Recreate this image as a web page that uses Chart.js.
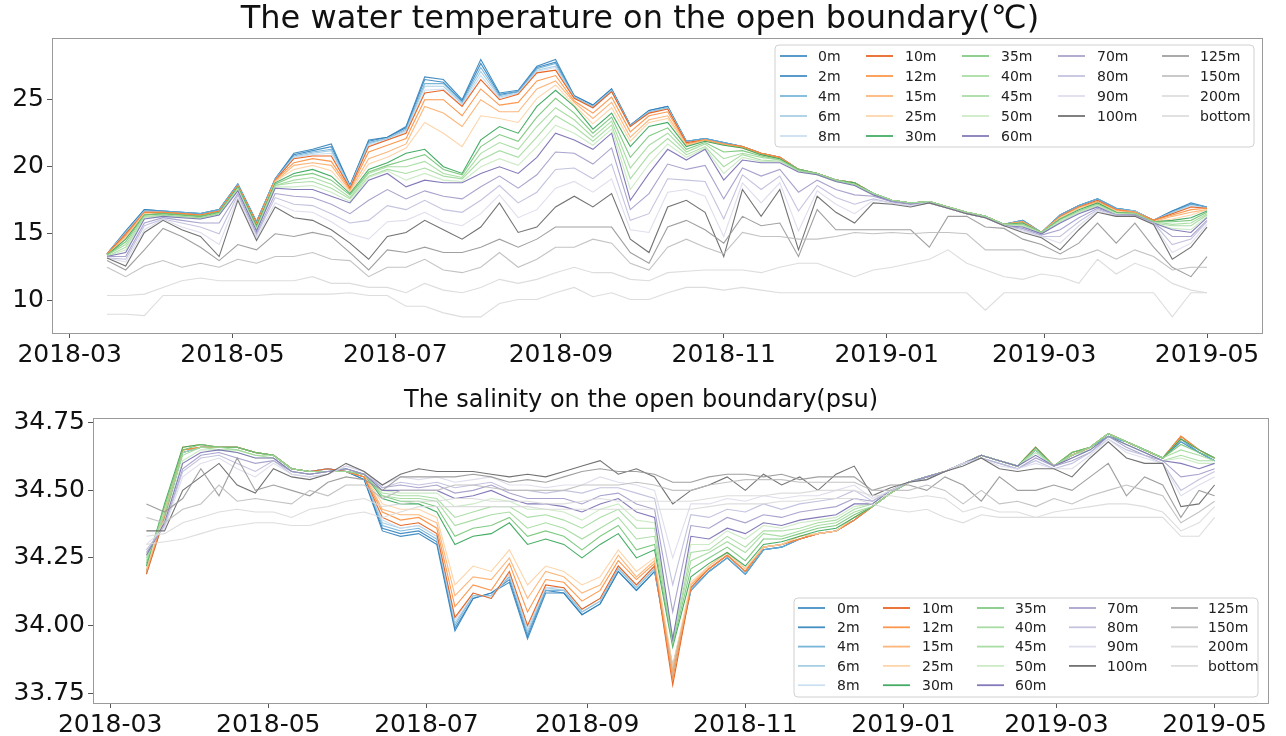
<!DOCTYPE html>
<html><head><meta charset="utf-8">
<script src="https://cdn.jsdelivr.net/npm/chart.js@4.4.1/dist/chart.umd.min.js"></script>
<style>
html,body{margin:0;padding:0;background:#fff;overflow:hidden}
#wrap{position:relative;width:1286px;height:736px;background:#fff}
.box{position:absolute;left:0;width:1286px;height:368px}
</style></head><body>
<div id="wrap">
<div class="box" style="top:0"><canvas id="c1" width="1286" height="368"></canvas></div>
<div class="box" style="top:368px"><canvas id="c2" width="1286" height="368"></canvas></div>
</div>
<script>
// ---------- data ----------
// day offsets from 2018-03-01
const days = [14,21,28,35,42,49,56,63,70,77,84,91,98,105,112,119,126,133,140,147,154,161,168,175,182,189,196,203,210,217,224,231,238,245,252,259,266,273,280,287,294,301,308,315,322,329,336,343,350,357,364,371,378,385,392,399,406,413,420,426];
const depths = ['0m','2m','4m','6m','8m','10m','12m','15m','25m','30m','35m','40m','45m','50m','60m','70m','80m','90m','100m','125m','150m','200m','bottom'];
const tickDays = [0,61,122,184,245,306,365,426];
const tickLabels = ['2018-03','2018-05','2018-07','2018-09','2018-11','2019-01','2019-03','2019-05'];
const tempTicks = [10,15,20,25];
const salTicks = [33.75,34.00,34.25,34.50,34.75];

// water temperature (°C)
const temp0m = [13.5,15.2,16.8,16.7,16.6,16.5,16.8,18.7,15.9,19.1,21.0,21.3,21.7,18.6,22.0,22.2,23.0,26.7,26.5,25.0,28.0,25.5,25.7,27.5,28.0,25.3,24.6,25.8,23.1,24.2,24.5,21.9,22.1,21.8,21.5,21.0,20.7,19.8,19.5,19.0,18.8,18.0,17.5,17.3,17.4,17.0,16.6,16.3,15.7,16.0,15.1,16.4,17.1,17.6,16.9,16.7,16.0,16.7,17.3,17.0];
const temp2m = [13.5,15.2,16.8,16.7,16.6,16.5,16.8,18.7,15.9,19.1,20.9,21.2,21.5,18.6,21.9,22.2,22.9,26.5,26.3,24.9,27.7,25.4,25.6,27.4,27.8,25.3,24.6,25.8,23.1,24.2,24.5,21.9,22.1,21.8,21.5,21.0,20.7,19.8,19.5,19.0,18.8,18.0,17.5,17.3,17.4,17.0,16.6,16.3,15.7,16.0,15.1,16.4,17.1,17.6,16.9,16.7,16.0,16.7,17.2,17.0];
const temp4m = [13.5,15.1,16.7,16.7,16.6,16.5,16.8,18.7,15.9,19.1,20.8,21.1,21.3,18.5,21.8,22.1,22.8,26.2,26.2,24.8,27.4,25.3,25.6,27.3,27.7,25.2,24.5,25.7,23.1,24.1,24.4,21.9,22.1,21.8,21.5,21.0,20.7,19.8,19.5,19.0,18.8,18.0,17.5,17.3,17.4,17.0,16.6,16.3,15.7,16.0,15.1,16.4,17.1,17.6,16.9,16.7,16.0,16.6,17.2,17.0];
const temp6m = [13.5,15.1,16.7,16.6,16.5,16.4,16.7,18.6,15.8,19.0,20.7,21.0,21.2,18.5,21.7,22.1,22.7,26.0,26.0,24.7,27.1,25.2,25.5,27.2,27.5,25.2,24.5,25.7,23.0,24.1,24.4,21.8,22.0,21.7,21.5,21.0,20.7,19.8,19.5,19.0,18.8,18.0,17.5,17.3,17.4,17.0,16.6,16.3,15.7,15.9,15.1,16.3,17.0,17.5,16.8,16.7,16.0,16.6,17.1,16.9];
const temp8m = [13.5,15.0,16.6,16.6,16.5,16.4,16.7,18.6,15.8,19.0,20.7,20.9,21.0,18.4,21.6,22.0,22.6,25.7,25.8,24.6,26.8,25.1,25.5,27.1,27.4,25.1,24.4,25.6,23.0,24.0,24.3,21.8,22.0,21.7,21.5,21.0,20.7,19.8,19.5,19.0,18.8,18.0,17.5,17.3,17.4,17.0,16.6,16.3,15.7,15.9,15.1,16.3,17.0,17.5,16.8,16.6,16.0,16.5,17.1,16.9];
const temp10m = [13.5,15.0,16.6,16.6,16.5,16.4,16.7,18.6,15.8,19.0,20.6,20.8,20.8,18.4,21.5,22.0,22.5,25.5,25.7,24.5,26.5,25.0,25.4,27.0,27.2,25.1,24.4,25.6,23.0,24.0,24.3,21.8,22.0,21.7,21.5,21.0,20.7,19.8,19.5,19.0,18.8,18.0,17.5,17.3,17.4,17.0,16.6,16.3,15.7,15.9,15.1,16.3,17.0,17.5,16.8,16.6,16.0,16.5,17.0,16.9];
const temp12m = [13.5,14.9,16.6,16.6,16.5,16.4,16.7,18.6,15.7,19.0,20.3,20.6,20.4,18.3,21.1,21.6,22.1,25.0,25.0,23.8,25.8,24.6,24.8,26.4,26.8,24.9,24.0,25.2,22.6,23.8,24.1,21.7,22.0,21.7,21.5,21.0,20.7,19.8,19.5,19.0,18.8,18.0,17.5,17.3,17.4,17.0,16.6,16.3,15.7,15.9,15.1,16.3,17.0,17.4,16.8,16.6,16.0,16.4,16.8,16.9];
const temp15m = [13.4,14.8,16.5,16.5,16.4,16.3,16.6,18.5,15.7,18.9,20.1,20.3,20.1,18.2,20.6,21.1,21.7,24.5,24.0,23.0,25.0,24.1,24.1,25.8,26.4,24.8,23.6,24.8,22.2,23.5,23.8,21.6,22.0,21.7,21.4,20.9,20.6,19.8,19.5,19.0,18.8,18.0,17.5,17.3,17.4,17.0,16.6,16.3,15.7,15.9,15.1,16.2,16.9,17.4,16.7,16.6,15.9,16.3,16.6,16.8];
const temp25m = [13.4,14.7,16.5,16.5,16.4,16.3,16.6,18.5,15.6,18.9,19.8,20.1,19.7,18.1,20.2,20.7,21.4,23.3,22.5,21.5,23.8,23.6,23.3,25.1,26.1,24.6,23.2,24.4,21.9,23.3,23.6,21.6,21.9,21.6,21.4,20.9,20.6,19.8,19.5,19.0,18.8,18.0,17.5,17.3,17.4,17.0,16.6,16.3,15.7,15.8,15.1,16.2,16.9,17.3,16.7,16.5,15.9,16.1,16.4,16.8];
const temp30m = [13.4,14.6,16.4,16.5,16.4,16.3,16.6,18.5,15.6,18.8,19.5,19.8,19.3,18.0,19.8,20.3,21.0,21.3,20.0,19.5,22.0,23.0,22.5,24.5,25.7,24.5,22.8,24.0,21.5,23.0,23.3,21.5,21.9,21.6,21.4,20.9,20.6,19.8,19.5,19.0,18.8,18.0,17.5,17.3,17.4,17.0,16.6,16.3,15.7,15.8,15.1,16.1,16.8,17.3,16.6,16.5,15.9,16.0,16.2,16.7];
const temp35m = [13.4,14.4,16.4,16.5,16.4,16.3,16.6,18.4,15.5,18.7,19.3,19.5,19.0,17.9,19.6,20.1,20.5,20.9,19.8,19.4,21.5,22.4,21.9,23.7,25.1,24.0,22.5,23.7,20.7,22.3,22.9,21.3,21.8,21.1,21.2,20.8,20.5,19.8,19.5,19.0,18.7,18.0,17.5,17.3,17.4,17.0,16.6,16.3,15.7,15.7,15.1,16.1,16.7,17.2,16.6,16.5,15.9,15.9,16.0,16.6];
const temp40m = [13.4,14.2,16.3,16.4,16.3,16.2,16.5,18.4,15.4,18.6,19.0,19.2,18.7,17.7,19.5,20.0,20.0,20.4,19.5,19.2,21.0,21.8,21.3,23.0,24.4,23.5,22.2,23.4,19.9,21.6,22.5,21.1,21.7,20.6,21.0,20.7,20.5,19.7,19.5,19.0,18.7,18.0,17.5,17.3,17.4,17.0,16.6,16.3,15.7,15.7,15.1,16.0,16.7,17.2,16.5,16.5,15.9,15.7,15.8,16.5];
const temp45m = [13.3,14.0,16.2,16.4,16.3,16.2,16.5,18.3,15.3,18.6,18.8,18.9,18.4,17.6,19.3,19.8,19.5,19.9,19.3,19.1,20.5,21.2,20.7,22.2,23.8,23.0,21.9,23.1,19.1,20.9,22.1,20.9,21.5,20.0,20.9,20.5,20.4,19.7,19.4,18.9,18.7,18.0,17.5,17.3,17.4,17.0,16.6,16.3,15.7,15.6,15.0,15.9,16.6,17.1,16.5,16.4,15.8,15.6,15.6,16.4];
const temp50m = [13.3,13.8,16.2,16.3,16.2,16.1,16.4,18.3,15.3,18.5,18.5,18.6,18.1,17.4,19.2,19.7,19.0,19.5,19.0,18.9,20.0,20.6,20.1,21.5,23.1,22.5,21.6,22.8,18.3,20.2,21.7,20.7,21.4,19.5,20.7,20.4,20.4,19.6,19.4,18.9,18.6,17.9,17.4,17.2,17.3,16.9,16.5,16.2,15.6,15.6,15.0,15.9,16.6,17.1,16.5,16.4,15.8,15.4,15.3,16.3];
const temp60m = [13.3,13.6,16.1,16.3,16.2,16.1,16.4,18.2,15.2,18.4,18.3,18.3,17.8,17.3,19.0,19.5,18.5,19.0,18.8,18.8,19.5,20.0,19.5,20.7,22.5,22.0,21.3,22.5,17.5,19.5,21.3,20.5,21.3,19.0,20.5,20.3,20.3,19.6,19.4,18.9,18.6,17.9,17.4,17.2,17.3,16.9,16.5,16.2,15.6,15.5,15.0,15.8,16.5,17.0,16.4,16.4,15.8,15.3,15.1,16.2];
const temp70m = [13.3,13.3,15.8,16.2,16.0,15.8,15.8,18.0,15.0,18.0,17.8,17.7,17.2,16.5,17.5,18.3,17.6,18.2,17.8,17.6,18.5,19.3,18.4,19.4,21.1,21.0,20.2,21.4,16.8,18.0,20.2,19.8,20.1,17.6,19.9,19.3,19.8,18.1,19.0,18.3,17.9,17.8,17.4,17.2,17.3,16.9,16.5,16.2,15.6,15.4,14.9,15.3,16.2,16.9,16.4,16.4,15.8,14.8,14.8,16.0];
const temp80m = [13.2,13.1,15.6,16.1,15.8,15.5,15.0,17.9,14.9,17.7,17.2,17.1,16.5,15.8,16.0,17.1,16.8,17.5,16.8,16.6,17.5,18.6,17.3,18.1,19.8,19.9,19.1,20.2,16.0,16.5,19.1,19.0,18.9,16.1,19.4,18.3,19.3,16.7,18.6,17.7,17.2,17.6,17.3,17.1,17.3,16.9,16.5,16.2,15.6,15.3,14.8,14.8,15.9,16.8,16.4,16.3,15.8,14.2,14.6,15.9];
const temp90m = [13.2,12.9,15.3,16.1,15.5,15.1,14.2,17.7,14.7,17.3,16.7,16.6,15.9,15.0,14.6,15.9,16.0,16.6,15.9,15.6,16.5,17.9,16.2,16.8,18.4,18.9,18.1,19.1,15.3,15.1,18.1,18.3,17.8,14.8,18.8,17.3,18.8,15.2,18.2,17.2,16.5,17.5,17.3,17.1,17.3,16.9,16.5,16.2,15.6,15.2,14.8,14.3,15.6,16.7,16.3,16.3,15.7,13.6,14.3,15.7];
const temp100m = [13.2,12.6,15.1,16.0,15.3,14.8,13.3,17.5,14.5,17.0,16.2,16.0,15.3,14.3,13.1,14.8,15.1,16.0,15.3,14.6,15.5,17.3,15.1,15.5,17.0,17.8,17.0,18.0,14.6,13.6,17.0,17.5,16.6,13.3,18.3,16.3,18.3,13.8,17.8,16.6,15.8,17.3,17.2,17.0,17.3,16.9,16.5,16.2,15.6,15.1,14.7,13.8,15.3,16.6,16.3,16.3,15.7,13.1,14.0,15.5];
const temp125m = [13.0,12.3,13.8,15.4,14.8,14.0,13.0,14.2,13.8,15.0,14.8,15.1,14.8,13.6,12.3,13.8,13.6,14.0,13.6,13.6,14.0,14.6,14.0,14.6,15.5,15.5,15.5,15.5,13.6,12.8,15.5,16.0,15.3,14.3,16.3,15.6,15.8,13.3,16.8,15.3,15.3,15.3,15.3,15.3,14.0,16.3,16.3,15.5,15.4,14.6,14.2,13.5,14.3,15.8,14.3,15.8,14.0,12.5,11.8,13.3];
const temp150m = [12.5,11.8,12.6,13.0,12.5,12.8,12.5,13.1,12.8,13.3,13.3,13.6,13.1,13.0,11.8,12.5,12.5,13.1,12.3,12.1,12.5,13.6,12.5,13.1,14.0,14.0,14.6,14.3,12.8,12.3,14.0,14.6,14.0,13.5,15.1,14.8,14.8,14.6,14.6,14.8,15.1,15.0,15.1,15.0,15.1,15.1,15.0,13.8,13.8,13.8,13.3,13.1,13.3,13.8,13.1,13.8,13.3,12.3,12.5,12.5];
const temp200m = [10.4,10.4,10.5,11.0,11.5,11.7,11.5,11.5,11.5,11.5,11.5,11.8,11.3,11.3,11.0,11.0,10.6,11.3,10.8,10.6,11.0,11.6,11.3,11.6,12.1,12.5,12.1,12.1,11.6,11.5,12.1,12.2,12.3,12.3,12.3,12.1,12.5,12.8,12.8,12.3,11.8,12.3,12.5,12.8,13.1,13.8,12.8,12.3,11.8,11.6,12.0,11.8,11.3,13.1,12.0,12.8,12.3,11.3,10.8,10.6];
const tempBottom = [9.0,9.0,8.9,10.4,10.4,10.4,10.4,10.4,10.4,10.5,10.5,10.5,10.5,10.6,10.4,10.4,9.6,9.6,9.1,8.8,8.8,9.8,10.1,10.1,10.6,11.0,10.3,10.6,10.1,10.1,10.6,11.0,11.0,10.8,11.0,10.8,10.6,10.6,10.6,10.6,10.6,10.6,10.6,10.6,10.6,10.6,10.6,9.3,10.6,10.6,10.6,10.6,10.6,10.6,10.6,10.6,10.6,8.8,10.6,10.6];

// salinity (psu)
const sal0m = [34.20,34.40,34.64,34.66,34.66,34.66,34.64,34.63,34.58,34.57,34.58,34.57,34.54,34.35,34.33,34.34,34.30,33.98,34.10,34.12,34.16,33.95,34.12,34.12,34.04,34.08,34.20,34.13,34.20,33.85,34.13,34.20,34.25,34.19,34.28,34.29,34.32,34.34,34.35,34.39,34.44,34.49,34.53,34.55,34.57,34.60,34.63,34.61,34.59,34.65,34.59,34.63,34.66,34.70,34.68,34.65,34.62,34.68,34.64,34.61];
const sal2m = [34.20,34.40,34.64,34.66,34.66,34.66,34.64,34.63,34.58,34.57,34.58,34.57,34.54,34.36,34.34,34.35,34.31,33.99,34.10,34.12,34.17,33.96,34.13,34.12,34.04,34.08,34.20,34.13,34.20,33.83,34.13,34.20,34.25,34.19,34.28,34.29,34.32,34.34,34.35,34.39,34.44,34.49,34.53,34.55,34.57,34.60,34.63,34.61,34.59,34.65,34.59,34.63,34.66,34.70,34.68,34.65,34.62,34.69,34.64,34.61];
const sal4m = [34.20,34.40,34.64,34.66,34.66,34.66,34.64,34.63,34.58,34.57,34.58,34.57,34.55,34.37,34.35,34.36,34.32,34.00,34.11,34.11,34.18,33.97,34.13,34.13,34.05,34.09,34.21,34.14,34.21,33.82,34.13,34.20,34.25,34.19,34.28,34.29,34.32,34.34,34.35,34.39,34.44,34.49,34.53,34.55,34.57,34.60,34.63,34.61,34.59,34.65,34.59,34.63,34.66,34.70,34.68,34.65,34.62,34.69,34.64,34.61];
const sal6m = [34.19,34.40,34.64,34.66,34.66,34.66,34.64,34.63,34.58,34.57,34.58,34.57,34.55,34.38,34.36,34.37,34.33,34.01,34.11,34.11,34.19,33.98,34.14,34.13,34.05,34.09,34.21,34.14,34.21,33.81,34.14,34.21,34.26,34.20,34.29,34.30,34.32,34.34,34.35,34.39,34.44,34.49,34.53,34.55,34.57,34.60,34.63,34.61,34.59,34.66,34.59,34.63,34.66,34.71,34.68,34.65,34.62,34.70,34.65,34.62];
const sal8m = [34.19,34.40,34.65,34.66,34.66,34.66,34.64,34.63,34.58,34.57,34.58,34.57,34.55,34.39,34.36,34.37,34.33,34.02,34.12,34.10,34.19,33.99,34.14,34.14,34.06,34.10,34.22,34.15,34.22,33.80,34.14,34.21,34.26,34.20,34.29,34.30,34.32,34.34,34.35,34.39,34.44,34.49,34.53,34.55,34.57,34.60,34.63,34.61,34.59,34.66,34.59,34.63,34.66,34.71,34.68,34.65,34.62,34.70,34.65,34.62];
const sal10m = [34.19,34.40,34.65,34.66,34.66,34.66,34.64,34.63,34.58,34.57,34.58,34.57,34.55,34.40,34.37,34.38,34.34,34.03,34.12,34.10,34.20,34.00,34.15,34.14,34.06,34.10,34.22,34.15,34.22,33.78,34.14,34.21,34.26,34.20,34.29,34.30,34.32,34.34,34.35,34.39,34.44,34.49,34.53,34.55,34.57,34.60,34.63,34.61,34.59,34.66,34.59,34.63,34.66,34.71,34.68,34.65,34.62,34.70,34.65,34.62];
const sal12m = [34.20,34.41,34.65,34.66,34.66,34.66,34.64,34.63,34.58,34.57,34.57,34.57,34.55,34.42,34.39,34.40,34.36,34.07,34.15,34.13,34.23,34.05,34.17,34.16,34.09,34.13,34.24,34.17,34.23,33.80,34.15,34.21,34.26,34.20,34.29,34.30,34.32,34.34,34.35,34.39,34.44,34.49,34.53,34.55,34.57,34.60,34.63,34.61,34.59,34.66,34.59,34.63,34.66,34.71,34.68,34.65,34.62,34.70,34.65,34.62];
const sal15m = [34.20,34.42,34.66,34.67,34.66,34.66,34.64,34.63,34.58,34.57,34.57,34.57,34.56,34.43,34.41,34.41,34.38,34.11,34.18,34.17,34.25,34.10,34.20,34.18,34.12,34.15,34.26,34.18,34.24,33.83,34.15,34.22,34.27,34.21,34.29,34.30,34.33,34.34,34.35,34.40,34.44,34.49,34.53,34.55,34.57,34.60,34.63,34.61,34.59,34.66,34.59,34.64,34.66,34.71,34.68,34.65,34.62,34.69,34.65,34.62];
const sal25m = [34.21,34.43,34.66,34.67,34.66,34.66,34.64,34.63,34.58,34.57,34.57,34.57,34.56,34.45,34.43,34.43,34.40,34.15,34.22,34.20,34.28,34.15,34.22,34.20,34.15,34.18,34.28,34.20,34.25,33.85,34.16,34.22,34.27,34.21,34.29,34.30,34.33,34.34,34.35,34.40,34.44,34.49,34.53,34.55,34.57,34.60,34.63,34.61,34.59,34.66,34.59,34.64,34.66,34.71,34.68,34.65,34.62,34.69,34.65,34.62];
const sal30m = [34.22,34.45,34.66,34.67,34.66,34.66,34.64,34.63,34.58,34.57,34.57,34.57,34.56,34.47,34.45,34.45,34.42,34.30,34.33,34.34,34.38,34.30,34.32,34.30,34.25,34.30,34.34,34.25,34.28,33.92,34.18,34.23,34.27,34.22,34.30,34.31,34.33,34.35,34.36,34.40,34.44,34.49,34.53,34.55,34.57,34.60,34.63,34.61,34.59,34.66,34.59,34.64,34.66,34.71,34.68,34.65,34.62,34.69,34.65,34.62];
const sal35m = [34.23,34.44,34.65,34.67,34.66,34.66,34.64,34.63,34.58,34.57,34.57,34.57,34.56,34.48,34.46,34.46,34.44,34.33,34.36,34.37,34.40,34.33,34.35,34.33,34.28,34.33,34.37,34.28,34.30,33.93,34.21,34.25,34.29,34.24,34.32,34.32,34.34,34.36,34.37,34.41,34.44,34.49,34.53,34.55,34.57,34.60,34.63,34.61,34.59,34.65,34.59,34.64,34.66,34.71,34.68,34.65,34.62,34.67,34.64,34.62];
const sal40m = [34.24,34.42,34.64,34.66,34.66,34.65,34.63,34.63,34.58,34.57,34.57,34.57,34.56,34.48,34.47,34.47,34.46,34.37,34.39,34.41,34.42,34.36,34.38,34.36,34.32,34.36,34.40,34.32,34.33,33.94,34.24,34.27,34.31,34.27,34.34,34.33,34.35,34.37,34.38,34.42,34.44,34.49,34.53,34.55,34.57,34.60,34.63,34.61,34.59,34.65,34.59,34.63,34.66,34.71,34.68,34.65,34.62,34.65,34.63,34.61];
const sal45m = [34.25,34.41,34.63,34.66,34.65,34.65,34.63,34.62,34.57,34.56,34.57,34.58,34.56,34.49,34.48,34.48,34.47,34.40,34.42,34.44,34.44,34.40,34.41,34.39,34.36,34.40,34.43,34.36,34.36,33.94,34.27,34.28,34.33,34.29,34.35,34.35,34.36,34.38,34.39,34.43,34.45,34.50,34.53,34.55,34.57,34.60,34.63,34.61,34.59,34.64,34.59,34.63,34.65,34.70,34.67,34.64,34.61,34.63,34.61,34.61];
const sal50m = [34.26,34.39,34.61,34.65,34.65,34.64,34.62,34.62,34.57,34.56,34.57,34.58,34.56,34.50,34.49,34.49,34.49,34.44,34.45,34.47,34.46,34.43,34.43,34.42,34.39,34.43,34.45,34.39,34.38,33.95,34.30,34.30,34.35,34.32,34.37,34.36,34.38,34.39,34.40,34.44,34.45,34.50,34.53,34.55,34.57,34.60,34.63,34.61,34.59,34.64,34.59,34.62,34.65,34.70,34.67,34.64,34.61,34.62,34.60,34.60];
const sal60m = [34.26,34.38,34.60,34.64,34.65,34.64,34.62,34.62,34.57,34.56,34.57,34.58,34.56,34.50,34.50,34.50,34.50,34.47,34.48,34.50,34.47,34.45,34.45,34.44,34.42,34.45,34.47,34.42,34.40,33.95,34.33,34.32,34.36,34.34,34.38,34.37,34.39,34.40,34.41,34.45,34.45,34.50,34.53,34.55,34.57,34.60,34.63,34.61,34.59,34.63,34.59,34.62,34.65,34.70,34.67,34.64,34.61,34.60,34.58,34.60];
const sal70m = [34.27,34.37,34.58,34.63,34.64,34.62,34.60,34.61,34.57,34.56,34.57,34.58,34.56,34.51,34.52,34.51,34.52,34.49,34.50,34.52,34.49,34.47,34.47,34.47,34.45,34.48,34.49,34.45,34.43,34.05,34.37,34.36,34.40,34.38,34.41,34.40,34.42,34.43,34.44,34.47,34.46,34.50,34.53,34.55,34.57,34.60,34.62,34.60,34.58,34.62,34.59,34.61,34.64,34.70,34.66,34.63,34.61,34.55,34.56,34.58];
const sal80m = [34.28,34.37,34.57,34.62,34.63,34.60,34.57,34.61,34.56,34.55,34.56,34.59,34.57,34.51,34.53,34.52,34.53,34.51,34.52,34.53,34.50,34.50,34.49,34.50,34.49,34.51,34.51,34.49,34.47,34.15,34.41,34.40,34.43,34.42,34.45,34.43,34.45,34.46,34.47,34.50,34.46,34.50,34.53,34.54,34.57,34.60,34.62,34.60,34.58,34.61,34.58,34.60,34.64,34.69,34.65,34.63,34.60,34.50,34.54,34.57];
const sal90m = [34.30,34.36,34.55,34.60,34.62,34.58,34.55,34.60,34.56,34.55,34.56,34.59,34.57,34.52,34.55,34.54,34.55,34.53,34.54,34.55,34.52,34.52,34.51,34.52,34.52,34.55,34.53,34.52,34.50,34.25,34.45,34.45,34.47,34.46,34.48,34.47,34.48,34.48,34.50,34.52,34.47,34.50,34.53,34.54,34.57,34.60,34.62,34.59,34.58,34.60,34.58,34.58,34.63,34.69,34.64,34.62,34.60,34.48,34.52,34.55];
const sal100m = [34.35,34.35,34.50,34.55,34.60,34.52,34.49,34.58,34.55,34.54,34.56,34.60,34.57,34.52,34.56,34.58,34.57,34.57,34.57,34.56,34.55,34.56,34.55,34.57,34.59,34.61,34.56,34.58,34.55,34.45,34.50,34.52,34.55,34.50,34.56,34.52,34.55,34.50,34.56,34.59,34.48,34.51,34.53,34.54,34.57,34.59,34.62,34.58,34.57,34.58,34.58,34.55,34.62,34.68,34.62,34.60,34.60,34.44,34.45,34.52];
const sal125m = [34.45,34.42,34.47,34.58,34.48,34.62,34.50,34.52,34.50,34.48,34.53,34.55,34.54,34.50,34.55,34.55,34.55,34.55,34.56,34.55,34.53,34.54,34.53,34.55,34.57,34.58,34.57,34.57,34.56,34.53,34.53,34.55,34.56,34.56,34.55,34.56,34.54,34.55,34.55,34.55,34.50,34.52,34.52,34.50,34.55,34.52,34.46,34.55,34.50,34.50,34.52,34.50,34.55,34.60,34.48,34.55,34.52,34.40,34.50,34.48];
const sal150m = [34.40,34.38,34.43,34.45,34.52,34.46,34.47,34.46,34.45,34.50,34.48,34.52,34.52,34.47,34.50,34.50,34.50,34.52,34.52,34.51,34.50,34.50,34.50,34.50,34.52,34.52,34.52,34.53,34.52,34.50,34.50,34.52,34.53,34.54,34.54,34.54,34.53,34.53,34.53,34.53,34.50,34.50,34.50,34.52,34.50,34.45,34.50,34.45,34.46,34.44,34.47,34.45,34.48,34.50,34.52,34.50,34.48,34.38,34.42,34.46];
const sal200m = [34.33,34.34,34.38,34.40,34.42,34.43,34.42,34.42,34.40,34.43,34.44,34.46,34.47,34.44,34.45,34.46,34.46,34.47,34.47,34.46,34.46,34.46,34.45,34.45,34.46,34.47,34.46,34.46,34.46,34.46,34.46,34.47,34.48,34.48,34.48,34.49,34.49,34.50,34.50,34.50,34.48,34.48,34.47,34.48,34.47,34.42,34.44,34.42,34.42,34.40,34.42,34.43,34.44,34.45,34.45,34.44,34.42,34.35,34.38,34.44];
const salBottom = [34.30,34.31,34.32,34.34,34.36,34.37,34.38,34.38,34.37,34.37,34.39,34.41,34.42,34.40,34.42,34.44,34.44,34.44,34.44,34.44,34.44,34.44,34.43,34.43,34.43,34.43,34.43,34.43,34.43,34.43,34.43,34.44,34.45,34.45,34.45,34.46,34.46,34.47,34.47,34.47,34.45,34.43,34.42,34.43,34.40,34.38,34.41,34.40,34.40,34.40,34.40,34.40,34.40,34.40,34.40,34.40,34.40,34.33,34.33,34.40];

const tempSeries = [temp0m,temp2m,temp4m,temp6m,temp8m,temp10m,temp12m,temp15m,temp25m,temp30m,temp35m,temp40m,temp45m,temp50m,temp60m,temp70m,temp80m,temp90m,temp100m,temp125m,temp150m,temp200m,tempBottom];
const salSeries = [sal0m,sal2m,sal4m,sal6m,sal8m,sal10m,sal12m,sal15m,sal25m,sal30m,sal35m,sal40m,sal45m,sal50m,sal60m,sal70m,sal80m,sal90m,sal100m,sal125m,sal150m,sal200m,salBottom];

// ---------- styling ----------
const palette = ['#3182bd','#3182bd','#6baed6','#9ecae1','#c6dbef','#e6550d','#fd8d3c','#fdae6b','#fdd0a2','#31a354','#74c476','#a1d99b','#a1d99b','#c7e9c0','#756bb1','#9e9ac8','#bcbddc','#dadaeb','#636363','#969696','#bdbdbd','#d9d9d9','#d9d9d9'];
function rgba(hex,a){const n=parseInt(hex.slice(1),16);return `rgba(${n>>16&255},${n>>8&255},${n&255},${a})`;}
const FONT = '"DejaVu Sans", sans-serif';
Chart.defaults.font.family = FONT;
Chart.defaults.color = '#111';

function makeDatasets(series){
  return series.map((arr,i)=>({
    label: depths[i],
    data: days.map((d,k)=>({x:d,y:arr[k]})),
    borderColor: rgba(palette[i],0.9),
    borderWidth: 1.1,
    pointRadius: 0,
    tension: 0,
    fill: false,
    order: -i
  }));
}

function framePlugin(){
  return {id:'frame', afterDatasetsDraw(chart){
    const a=chart.chartArea, c=chart.ctx;
    c.save(); c.strokeStyle='#9a9a9a'; c.lineWidth=1;
    c.strokeRect(Math.round(a.left)+0.5,Math.round(a.top)+0.5,Math.round(a.right-a.left),Math.round(a.bottom-a.top));
    c.restore();
  }};
}

function titlePlugin(text,size,cx,cy){
  return {id:'ttl', afterDraw(chart){
    const c=chart.ctx; c.save();
    c.font=`${size}px ${FONT}`; c.fillStyle='#111'; c.textAlign='center'; c.textBaseline='middle';
    c.fillText(text,cx,cy); c.restore();
  }};
}

function legendPlugin(opt){
  return {id:'lgd', afterDraw(chart){
    const a=chart.chartArea, c=chart.ctx;
    const right = a.right - opt.rightGap;
    const left = right - opt.w;
    const top = opt.fromBottom ? a.bottom - opt.bottomGap - opt.h : a.top + opt.topGap;
    c.save();
    c.fillStyle='rgba(255,255,255,0.85)'; c.strokeStyle='#d0d0d0'; c.lineWidth=1;
    const r=4; c.beginPath();
    c.moveTo(left+r,top); c.lineTo(left+opt.w-r,top); c.quadraticCurveTo(left+opt.w,top,left+opt.w,top+r);
    c.lineTo(left+opt.w,top+opt.h-r); c.quadraticCurveTo(left+opt.w,top+opt.h,left+opt.w-r,top+opt.h);
    c.lineTo(left+r,top+opt.h); c.quadraticCurveTo(left,top+opt.h,left,top+opt.h-r);
    c.lineTo(left,top+r); c.quadraticCurveTo(left,top,left+r,top); c.closePath(); c.fill(); c.stroke();
    c.font=`14px ${FONT}`; c.textBaseline='middle'; c.textAlign='left';
    const colStart=[0,5,10,15,19,23];
    chart.data.datasets.forEach((ds,i)=>{
      let col=0; while(i>=colStart[col+1]) col++;
      const row=i-colStart[col];
      const y=top+opt.row0+row*opt.rowH;
      const lx=left+opt.lineX[col];
      c.strokeStyle=ds.borderColor; c.lineWidth=1.8;
      c.beginPath(); c.moveTo(lx,y); c.lineTo(lx+27,y); c.stroke();
      c.fillStyle='#222'; c.fillText(ds.label,left+opt.textX[col],y+1);
    });
    c.restore();
  }};
}

function makeChart(id, series, cfg){
  return new Chart(document.getElementById(id),{
    type:'line',
    data:{datasets:makeDatasets(series)},
    options:{
      responsive:false, animation:false, devicePixelRatio:1,
      layout:{padding:{top:cfg.padTop,right:cfg.padRight,left:0,bottom:0}},
      plugins:{legend:{display:false},tooltip:{enabled:false},title:{display:false}},
      scales:{
        x:{type:'linear',min:-6.6,max:446.6,
          afterBuildTicks:s=>{s.ticks=tickDays.map(v=>({value:v}));},
          afterFit:s=>{s.height=cfg.xH;},
          ticks:{autoSkip:false,maxRotation:0,padding:2,font:{size:cfg.tickSize},color:'#111',
            callback:v=>{const i=tickDays.indexOf(v);return i>=0?tickLabels[i]:'';}},
          grid:{display:true,drawOnChartArea:false,drawTicks:true,tickLength:5,color:'#555'},
          border:{display:false}
        },
        y:{type:'linear',min:cfg.yMin,max:cfg.yMax,
          afterBuildTicks:s=>{s.ticks=cfg.yTicks.map(v=>({value:v}));},
          afterFit:s=>{s.width=cfg.yW;},
          ticks:{autoSkip:false,padding:3,font:{size:cfg.tickSize},color:'#111',
            callback:v=>cfg.dec?Number(v).toFixed(cfg.dec):String(v)},
          grid:{display:true,drawOnChartArea:false,drawTicks:true,tickLength:5,color:'#555'},
          border:{display:false}
        }
      }
    },
    plugins:[framePlugin(),titlePlugin(cfg.title,cfg.titleSize,cfg.titleX,cfg.titleY),legendPlugin(cfg.legend)]
  });
}

makeChart('c1', tempSeries, {
  padTop:38,padRight:24,xH:35,yW:52,tickSize:25,yMin:7.6,yMax:29.6,yTicks:tempTicks,dec:0,
  title:'The water temperature on the open boundary(\u2103)',titleSize:32,titleX:640,titleY:20,
  legend:{rightGap:8,topGap:7,w:479,h:102,row0:11,rowH:20,lineX:[5,91,187,283,387],textX:[43,130,226,322,425]}
});
makeChart('c2', salSeries, {
  padTop:50,padRight:18,xH:33,yW:93,tickSize:25,yMin:33.713,yMax:34.768,yTicks:salTicks,dec:2,
  title:'The salinity on the open boundary(psu)',titleSize:24,titleX:641,titleY:33,
  legend:{fromBottom:true,rightGap:10,bottomGap:6,w:464,h:99,row0:10,rowH:19.3,lineX:[4,89,183,275,377],textX:[43,128,221,313,414]}
});
</script>
</body></html>
